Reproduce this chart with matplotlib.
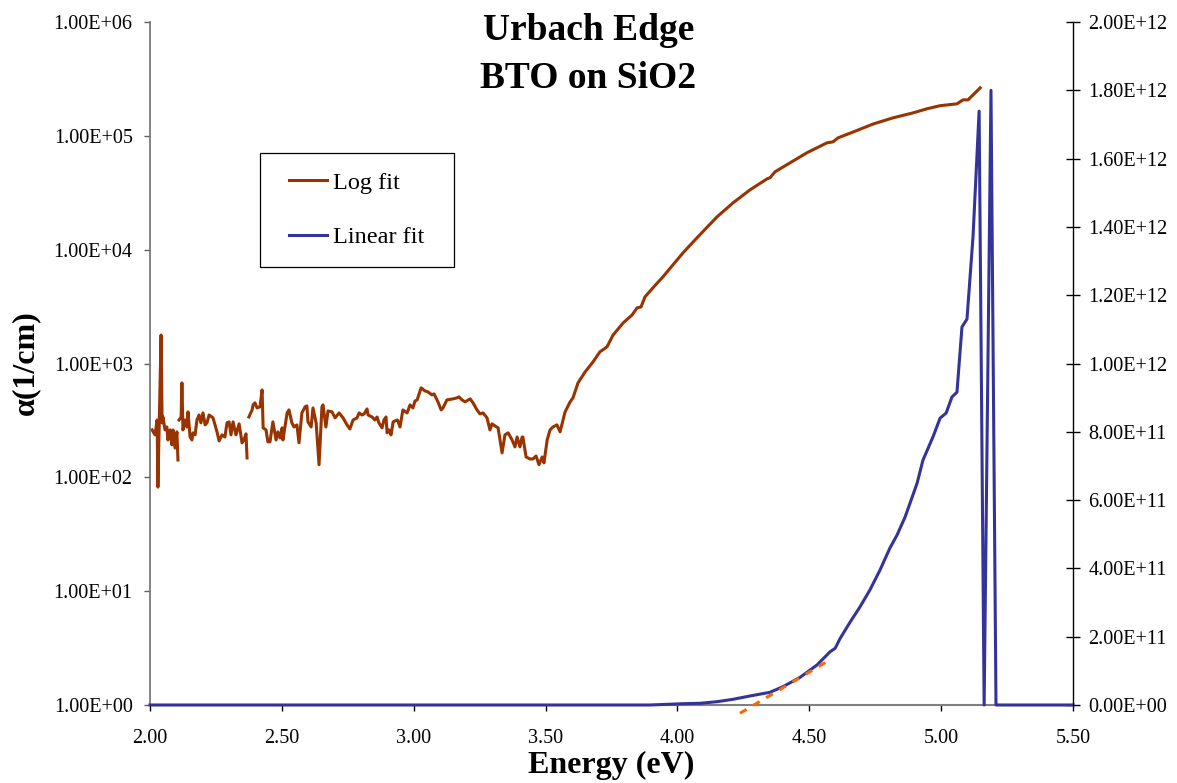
import matplotlib
matplotlib.use("Agg")
import matplotlib.pyplot as plt
from matplotlib.ticker import FixedLocator, FuncFormatter, NullLocator
from matplotlib.patches import Rectangle

plt.rcParams['font.family'] = ['Liberation Serif', 'DejaVu Serif']

nan = float('nan')

# log plot: absorption coefficient (1/cm) vs energy (eV), left axis
log_energy = [
    2.008, 2.019, 2.027, 2.030, 2.042, 2.046, 2.049, 2.057, 2.064, 2.068,
    2.076, 2.083, 2.087, 2.095, 2.102, 2.106, 2.108,
    2.110, 2.118, 2.121, 2.125, 2.133, 2.140, 2.144, 2.152, 2.159, 2.163,
    2.171, 2.178, 2.186, 2.193, 2.201, 2.209, 2.216, 2.224, 2.235, 2.239,
    2.254, 2.262, 2.273, 2.284, 2.292, 2.300, 2.307, 2.315, 2.326, 2.338,
    2.349, 2.356, 2.364, 2.368, 2.371,
    2.375, 2.387, 2.391, 2.398, 2.406, 2.417, 2.425, 2.429, 2.440, 2.447,
    2.455, 2.466, 2.478, 2.485, 2.493, 2.501, 2.504, 2.520, 2.527, 2.538,
    2.546, 2.557, 2.565, 2.576, 2.588, 2.595, 2.599, 2.611, 2.618, 2.630,
    2.641, 2.652, 2.656, 2.667, 2.675, 2.690, 2.702, 2.717, 2.732, 2.747,
    2.758, 2.770, 2.785, 2.793, 2.804, 2.812, 2.823, 2.827, 2.842, 2.853,
    2.861, 2.868, 2.880, 2.887, 2.895, 2.899, 2.906, 2.914, 2.922, 2.937,
    2.940, 2.948, 2.959, 2.975, 2.986, 2.997, 3.005, 3.013, 3.028, 3.043,
    3.054, 3.069, 3.077, 3.092, 3.104, 3.111, 3.126, 3.149, 3.164, 3.172,
    3.183, 3.195, 3.214, 3.225, 3.240, 3.251, 3.263, 3.278, 3.289, 3.297,
    3.308, 3.320, 3.335, 3.346, 3.358, 3.373, 3.384, 3.392, 3.403, 3.411,
    3.414, 3.426, 3.441, 3.452, 3.464, 3.475, 3.487, 3.494, 3.506, 3.517,
    3.528, 3.543, 3.555, 3.574, 3.593, 3.604, 3.623, 3.650, 3.680, 3.706,
    3.733, 3.756, 3.794, 3.828, 3.847, 3.862, 3.877, 3.907, 3.945, 3.983,
    4.021, 4.074, 4.150, 4.211, 4.275, 4.340, 4.351, 4.370, 4.427, 4.491,
    4.567, 4.590, 4.609, 4.666, 4.742, 4.818, 4.893, 4.947, 4.996, 5.060,
    5.083, 5.102, 5.148,
]
log_alpha = [
    261, 236, 319, 82, 1780, 301, 339, 261, 277, 213,
    261, 193, 261, 181, 251, 142, nan,
    319, 339, 676, 261, 319, 277, 376, 226, 213, 246,
    236, 319, 353, 301, 368, 289, 301, 353, 339, 333,
    251, 209, 236, 226, 301, 307, 236, 307, 236, 295,
    201, 213, 241, 148, nan,
    339, 391, 433, 451, 407, 416, 586, 272, 261, 205,
    205, 307, 213, 251, 222, 272, 213, 368, 391, 301,
    277, 289, 201, 368, 416, 424, 307, 277, 407, 301,
    129, 416, 433, 277, 383, 376, 333, 368, 333, 289,
    266, 319, 333, 368, 353, 361, 399, 353, 339, 319,
    339, 301, 272, 319, 339, 246, 261, 236, 307, 319,
    313, 277, 391, 368, 433, 407, 469, 479, 611, 574,
    563, 530, 541, 460, 391, 407, 479, 489, 499, 509,
    479, 460, 489, 451, 391, 361, 368, 333, 261, 295,
    283, 272, 164, 236, 246, 213, 185, 226, 185, 226,
    226, 151, 145, 145, 154, 129, 151, 134, 213, 261,
    277, 289, 251, 376, 460, 499, 676, 844, 1033, 1265,
    1400, 1780, 2270, 2670, 3080, 3140, 3850, 4620, 5770, 7350,
    9370, 12700, 19400, 25800, 33500, 41900, 42800, 48300, 57900, 71000,
    86800, 88600, 96000, 108000, 127000, 144000, 159000, 173000, 184000, 191000,
    207000, 207000, 264000,
]

# linear plot: right axis
lin_energy = [
    2.000, 3.896, 4.021, 4.086, 4.150, 4.211, 4.275, 4.351, 4.400, 4.465,
    4.529, 4.579, 4.598, 4.617, 4.655, 4.692, 4.730, 4.768, 4.806, 4.833,
    4.863, 4.882, 4.909, 4.931, 4.969, 4.996, 5.019, 5.041, 5.060, 5.079,
    5.098, 5.121, 5.144, 5.163, 5.189, 5.208, 5.500,
]
lin_value = [
    0, 0, 3.8e9, 5.0e9, 9.7e9, 1.67e10, 2.64e10, 3.72e10, 5.36e10, 8.1e10,
    1.17e11, 1.56e11, 1.66e11, 1.95e11, 2.43e11, 2.87e11, 3.37e11, 3.95e11, 4.60e11, 4.98e11,
    5.50e11, 5.91e11, 6.50e11, 7.17e11, 7.85e11, 8.40e11, 8.55e11, 9.02e11, 9.16e11, 1.107e12,
    1.130e12, 1.373e12, 1.739e12, 0, 1.80e12, 0, 0,
]

# straight-line fit to the edge
fit_energy = [4.237, 4.571]
fit_value = [-2.43e10, 1.29e11]

x_ticks = [2.0, 2.5, 3.0, 3.5, 4.0, 4.5, 5.0, 5.5]
log_ticks = [1, 10, 100, 1e3, 1e4, 1e5, 1e6]
lin_ticks = [0, 2e11, 4e11, 6e11, 8e11, 1e12, 1.2e12, 1.4e12, 1.6e12, 1.8e12, 2e12]

W, H = 1177, 783
fig = plt.figure(figsize=(W / 100, H / 100), dpi=100)
ax1 = fig.add_axes([150 / W, 1 - 705 / H, 923 / W, 683 / H])
ax2 = ax1.twinx()

l1, = ax1.plot(log_energy, log_alpha, color='#993300', lw=2.2)
ax1.set_yscale('log')
ax1.set_xlim(2, 5.5)
ax1.set_ylim(1, 1e6)
ax1.yaxis.set_major_locator(FixedLocator(log_ticks))
ax1.yaxis.set_minor_locator(NullLocator())
ax1.yaxis.set_major_formatter(FuncFormatter(lambda v, p: f"{v:.2E}"))
ax1.xaxis.set_major_locator(FixedLocator(x_ticks))
ax1.xaxis.set_major_formatter(FuncFormatter(lambda v, p: f"{v:.2f}"))

l2, = ax2.plot(lin_energy, lin_value, color='#333399', lw=2.2, clip_on=False)
ax2.plot(fit_energy, fit_value, color='#FF6600', lw=2.2, dashes=(2.5, 2.5), clip_on=False)
ax2.set_ylim(0, 2e12)
ax2.yaxis.set_major_locator(FixedLocator(lin_ticks))
ax2.yaxis.set_major_formatter(FuncFormatter(lambda v, p: f"{v:.2E}"))

for s in ['top', 'right']:
    ax1.spines[s].set_visible(False)
for s in ['top', 'left', 'bottom']:
    ax2.spines[s].set_visible(False)
ax1.spines['left'].set_color('#707070')
ax1.spines['bottom'].set_color('#808080')
ax1.spines['left'].set_linewidth(1.2)
ax1.spines['bottom'].set_linewidth(1.5)
ax2.spines['right'].set_color('black')
ax2.spines['right'].set_linewidth(1.0)

ax1.tick_params(axis='x', direction='out', length=4.5, width=1, pad=13, labelsize=14.5)
ax1.tick_params(axis='y', direction='out', length=4.5, width=1, pad=8, labelsize=14.5,
                color='#606060')
ax2.tick_params(axis='y', direction='inout', length=10, width=1, pad=6, labelsize=14.5)

ax1.set_xlabel('Energy (eV)', fontsize=23, fontweight='bold')
ax1.xaxis.set_label_coords(0.5, -0.067)
fig.text(26 / W, 1 - 363 / H, 'α(1/cm)', rotation=90, ha='center', va='center',
         fontsize=23, fontweight='bold')

fig.text(0.5, 1 - 40 / H, 'Urbach Edge', ha='center', va='baseline',
         fontsize=27, fontweight='bold')
fig.text(0.5, 1 - 88 / H, 'BTO on SiO2', ha='center', va='baseline',
         fontsize=27, fontweight='bold')

fig.patches.append(Rectangle((260 / W, 1 - 267 / H), 194 / W, 114 / H,
                             transform=fig.transFigure, facecolor='white',
                             edgecolor='black', lw=0.9, zorder=3))
fig.legend([l1, l2], ['Log fit', 'Linear fit'], loc='center',
           bbox_to_anchor=(357 / W, 1 - 210 / H), frameon=False, fontsize=17.5,
           handlelength=1.56, handletextpad=0.25, labelspacing=1.35, borderpad=0)

fig.savefig('out.png', dpi=100)
